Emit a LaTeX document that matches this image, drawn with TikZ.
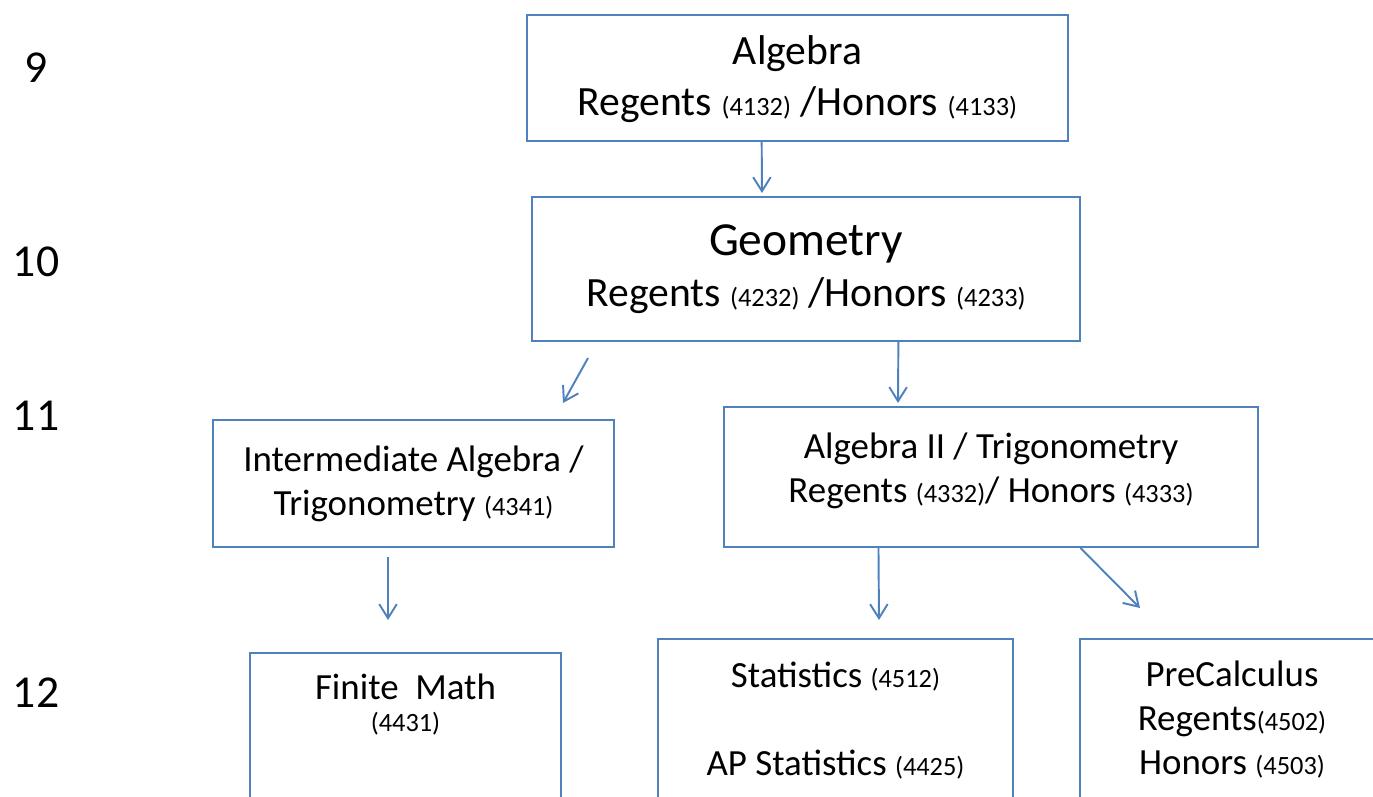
\documentclass[tikz,border=0pt]{standalone}
\usepackage{fontspec}
\setmainfont{Carlito}
\usetikzlibrary{positioning, arrows.meta, calc}

\definecolor{chartblue}{HTML}{4F81BD}
\newcommand{\ccode}[1]{{\fontsize{15}{18}\selectfont(#1)}}

\tikzset{
  course/.style={rectangle, draw=chartblue, line width=1.1pt, align=center, inner sep=0pt, font=\fontsize{21}{25}\selectfont},
  bigcourse/.style={course, font=\fontsize{23.7}{29}\selectfont},
  grade/.style={inner sep=0pt, font=\fontsize{26}{31}\selectfont},
  link/.style={draw=chartblue, line width=1.1pt, -{Straight Barb[length=8pt, width=10pt]}}
}

\begin{document}
\begin{tikzpicture}[x=0.02cm, y=-0.02cm]
  \useasboundingbox (0,0) rectangle (1373,797);

  % Grades
  \foreach \g/\y in {9/68, 10/262, 11/416, 12/693}
  \node[grade] (grade\g) at (36,\y) {\g};

  % Courses
  \node[bigcourse, minimum width=10.82cm, minimum height=2.52cm] (algebra) at (797.5,78)
    {\parbox[c][2.52cm][t]{10.82cm}{\centering\vspace*{0.42cm}Algebra\\Regents \ccode{4132} /Honors \ccode{4133}}};
  \node[bigcourse, minimum width=10.96cm, minimum height=2.88cm] (geometry) at (806,269)
    {{\fontsize{27}{33}\selectfont Geometry}\\Regents \ccode{4232} /Honors \ccode{4233}};
  \node[course, minimum width=8.02cm, minimum height=2.54cm] (interalg) at (413.5,483.5)
    {Intermediate Algebra /\\Trigonometry \ccode{4341}};
  \node[course, minimum width=10.68cm, minimum height=2.80cm] (algtwo) at (991,477)
    {\parbox[c][2.80cm][t]{10.68cm}{\centering\vspace*{0.52cm}Algebra II / Trigonometry\\Regents \ccode{4332}/ Honors \ccode{4333}}};
  \node[course, anchor=north] (finite) at (405.5,652)
    {\parbox[c][3.56cm][t]{6.22cm}{\centering\vspace*{0.42cm}Finite\ \ Math\\[-7pt]\ccode{4431}}};
  \node[course, anchor=north] (stats) at (835.5,638)
    {\parbox[c][3.84cm][t]{7.10cm}{\centering\vspace*{0.46cm}Statistics \ccode{4512}\\[25pt]AP Statistics \ccode{4425}}};
  \node[course, anchor=north] (precalc) at (1232,638)
    {\parbox[c][3.84cm][t]{6.08cm}{\centering\vspace*{0.44cm}PreCalculus\\Regents\ccode{4502}\\Honors \ccode{4503}}};

  % Arrow ends
  \coordinate (geoTip) at (762,193);
  \coordinate (leftFrom) at (588,358);
  \coordinate (leftTo) at (563,403);
  \coordinate (algtwoTip) at (898,403);
  \coordinate (finiteFrom) at (388,557);
  \coordinate (finiteTo) at (388,620);
  \coordinate (statsTip) at (879,620);
  \coordinate (precalcTip) at (1140,608);

  % Arrows
  \draw[link] ($(algebra.south west)!0.434!(algebra.south east)$) -- (geoTip);
  \draw[link] (leftFrom) -- (leftTo);
  \draw[link] ($(geometry.south west)!0.668!(geometry.south east)$) -- (algtwoTip);
  \draw[link] (finiteFrom) -- (finiteTo);
  \draw[link] ($(algtwo.south west)!0.290!(algtwo.south east)$) -- (statsTip);
  \draw[link] ($(algtwo.south west)!0.667!(algtwo.south east)$) -- (precalcTip);
\end{tikzpicture}
\end{document}
